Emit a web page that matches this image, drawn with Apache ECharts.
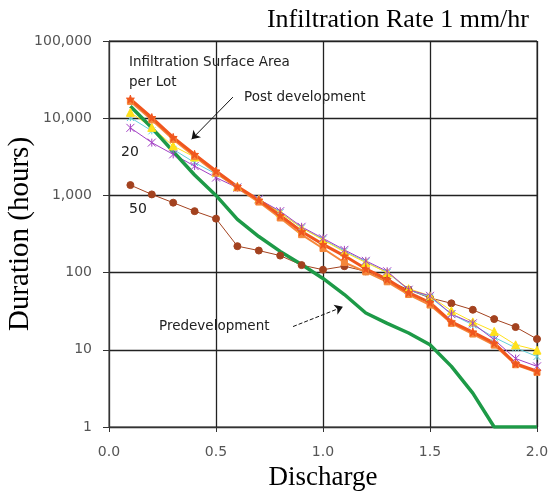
<!doctype html>
<html lang="en">
<head>
    <meta charset="UTF-8">
    <title>Infiltration Rate 1 mm/hr</title>
    <style>
        *{
            padding:0;
            margin:0;
        }
        body{
            background:#fff;
        }
        #main{
            width:548px;
            height:491px;
        }
    </style>
</head>
<body>
<div id="main"></div>
<script src="https://cdn.jsdelivr.net/npm/echarts@6/dist/echarts.min.js"></script>
<script>
    // discharge values (x)
    var discharge = [0.1, 0.2, 0.3, 0.4, 0.5, 0.6, 0.7, 0.8, 0.9, 1.0,
                     1.1, 1.2, 1.3, 1.4, 1.5, 1.6, 1.7, 1.8, 1.9, 2.0];
    // duration (hours) per series
    var postStar   = [17700, 10200, 5640, 3400, 2070, 1300, 870, 550, 340, 232, 165, 112, 82, 55, 41, 23, 17, 12.2, 6.6, 5.3];
    var postSquare = [16500, 9500, 5300, 3200, 1950, 1250, 820, 510, 310, 205, 135, 102, 76, 52, 38, 22, 16, 11.5, 6.4, 5.1];
    var postYellow = [11900, 7600, 4370, 3140, 2000, 1300, 900, 600, 380, 265, 185, 135, 100, 62, 50, 32, 23, 17.3, 11.6, 9.9];
    var postCyan   = [10200, 6850, 3950, 2660, 1900, 1280, 890, 600, 380, 270, 190, 138, 100, 60, 48, 29, 21, 14.5, 10.6, 8.2];
    var post20     = [7500, 4830, 3400, 2400, 1700, 1260, 890, 625, 392, 278, 197, 142, 104, 60, 50, 29, 22, 13.5, 7.7, 6.1];
    var post50     = [1360, 1030, 805, 625, 500, 220, 193, 166, 125, 109, 121, 104, 79, 60, 47, 40, 33, 25, 19.7, 13.8];
    var predev     = [14300, 7500, 3700, 1840, 1000, 488, 293, 188, 127, 84, 52, 30, 22, 16.5, 11.6, 6.1, 2.75, 1, 1, 1];

    var yTicks = [1, 10, 100, 1000, 10000, 100000];

    var starPath = 'path://M50,0L61,35L98,35L68,57L79,91L50,70L21,91L32,57L2,35L39,35Z';
    var asterPath = 'path://M0,0L10,10M10,0L0,10M5,0L5,10';

    function pairs(ys){
        return ys.map(function(v, i){ return [discharge[i], v]; });
    }

    function lineSeries(name, ys, color, width, symbol, size, extra){
        var s = {
            name: name,
            type: 'line',
            data: pairs(ys),
            symbol: symbol,
            symbolSize: size,
            showSymbol: symbol !== 'none',
            lineStyle: { color: color, width: width },
            itemStyle: { color: color, borderColor: color, borderWidth: 1 },
            z: 3
        };
        for (var k in extra) s[k] = extra[k];
        return s;
    }

    var sans = 'DejaVu Sans';
    var serif = 'Liberation Serif';

    var myChart = echarts.init(document.getElementById('main'));
    var option = {
        animation: false,
        title: {
            text: 'Infiltration Rate 1 mm/hr',
            right: 14,
            top: 2,
            textStyle: { fontFamily: serif, fontSize: 26, fontWeight: 'normal', color: '#000' }
        },
        grid: {
            left: 109, right: 11, top: 41, bottom: 64,
            containLabel: false,
            outerBoundsMode: 'none',
            show: true, borderColor: '#333', borderWidth: 1
        },
        xAxis: {
            type: 'value',
            min: 0, max: 2, interval: 0.5,
            name: 'Discharge',
            nameLocation: 'middle',
            nameGap: 37,
            nameMoveOverlap: false,
            nameTextStyle: { fontFamily: serif, fontSize: 27, color: '#000' },
            axisLine: { lineStyle: { color: '#333', width: 1 } },
            axisTick: { show: true, length: 5, lineStyle: { color: '#333' } },
            axisLabel: {
                margin: 18,
                fontFamily: sans, fontSize: 14, color: '#555',
                formatter: function(v){ return v.toFixed(1); }
            },
            splitLine: { show: true, lineStyle: { color: '#222', width: 1.3 } }
        },
        yAxis: {
            type: 'log',
            logBase: 10,
            min: yTicks[0], max: yTicks[yTicks.length - 1],
            name: 'Duration (hours)',
            nameLocation: 'middle',
            nameGap: 74,
            nameMoveOverlap: false,
            nameTextStyle: { fontFamily: serif, fontSize: 29, color: '#000' },
            axisLine: { show: true, lineStyle: { color: '#333', width: 1 } },
            axisTick: { show: true, length: 6, lineStyle: { color: '#333' } },
            axisLabel: {
                margin: 17,
                fontFamily: sans, fontSize: 14, color: '#555',
                formatter: function(v){ return Math.round(v).toLocaleString('en-US'); }
            },
            splitLine: { show: true, lineStyle: { color: '#222', width: 1.3 } }
        },
        series: [
            lineSeries('50', post50, '#a3421f', 1, 'circle', 7),
            lineSeries('Cyan', postCyan, '#62cfd9', 1, asterPath, 7),
            lineSeries('Yellow', postYellow, '#ffe01a', 1, 'triangle', 8),
            lineSeries('20', post20, '#a23fc4', 1, asterPath, 8),
            lineSeries('Square', postSquare, '#f5873a', 2, 'rect', 6, {}),
            lineSeries('Star', postStar, '#f0561e', 3, starPath, 8),
            lineSeries('Predevelopment', predev, '#1d9a47', 3.5, 'none', 0, {
                markLine: {
                    silent: true,
                    symbol: ['none', 'arrow'],
                    symbolSize: 8,
                    label: { show: false },
                    lineStyle: { color: '#111', width: 1, type: 'solid' },
                    data: [
                        [{ coord: [0.579, 18750] }, { coord: [0.386, 5330] }],
                        [{ coord: [0.86, 20], lineStyle: { type: 'dashed' } }, { coord: [1.093, 36] }]
                    ]
                }
            })
        ],
        graphic: [
            { type: 'text', left: 129, top: 55, style: { text: 'Infiltration Surface Area', font: '13.5px "DejaVu Sans"', fill: '#222' } },
            { type: 'text', left: 129, top: 75, style: { text: 'per Lot', font: '13.5px "DejaVu Sans"', fill: '#222' } },
            { type: 'text', left: 244, top: 90, style: { text: 'Post development', font: '13.5px "DejaVu Sans"', fill: '#222' } },
            { type: 'text', left: 121, top: 145, style: { text: '20', font: '14px "DejaVu Sans"', fill: '#222' } },
            { type: 'text', left: 129, top: 202, style: { text: '50', font: '14px "DejaVu Sans"', fill: '#222' } },
            { type: 'text', left: 159, top: 319, style: { text: 'Predevelopment', font: '13.5px "DejaVu Sans"', fill: '#222' } }
        ]
    };
    myChart.setOption(option);
</script>
</body>
</html>
